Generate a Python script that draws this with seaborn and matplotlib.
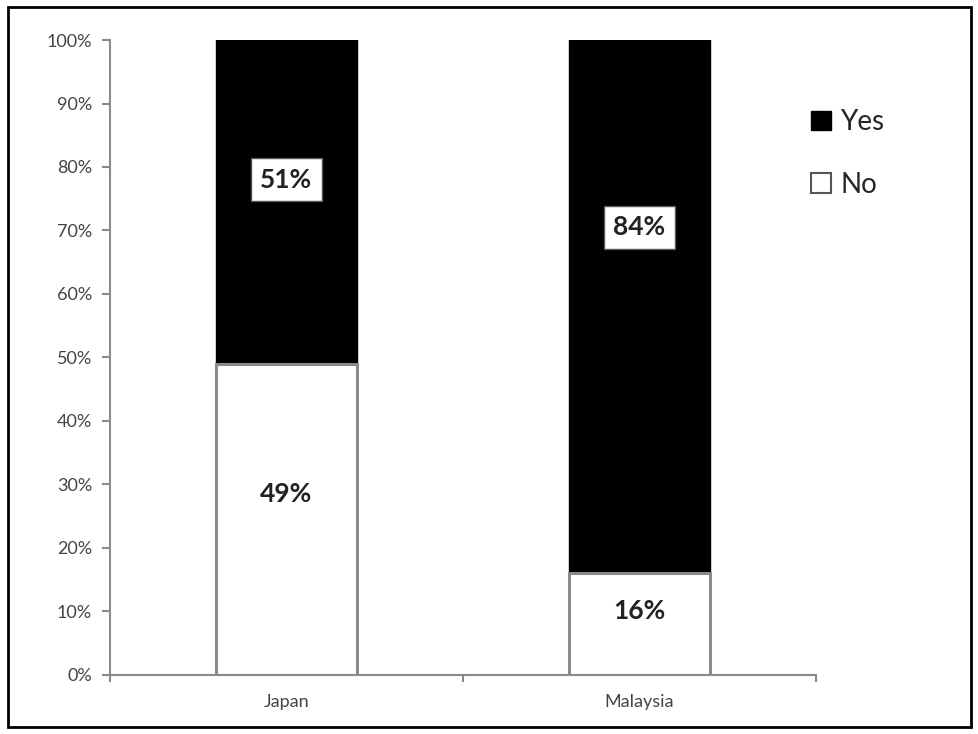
import matplotlib
matplotlib.use("Agg")
import matplotlib.pyplot as plt
from matplotlib.patches import Rectangle, Patch
import pandas as pd
import seaborn as sns

# data
countries = ["Japan", "Malaysia"]
yes_pct = [51, 84]
no_pct = [49, 16]
yes_label_y = [78, 70.5]
no_label_y = [28.5, 10]

df = pd.DataFrame({"Country": countries, "Yes": yes_pct, "No": no_pct})
df["Total"] = df["Yes"] + df["No"]

sns.set_style("white")
plt.rcParams["font.family"] = ["Lato", "DejaVu Sans"]

fig = plt.figure(figsize=(9.79, 7.34), dpi=100)
ax = fig.add_axes([0.1124, 0.0804, 0.7208, 0.8651])

# black full bar (Yes on top), white No bar over it
sns.barplot(data=df, x="Country", y="Total", color="black", width=0.4,
            saturation=1, edgecolor="black", linewidth=1, ax=ax)
sns.barplot(data=df, x="Country", y="No", color="white", width=0.4,
            saturation=1, edgecolor="#8a8a8a", linewidth=2.2, ax=ax)

ax.set_xlim(-0.5, 1.5)
ax.set_ylim(0, 100)
ax.set_yticks(range(0, 101, 10))
ax.set_yticklabels([f"{v}%" for v in range(0, 101, 10)], color="#444444", fontsize=13)
ax.set_xticks([0, 1])
ax.set_xticklabels(countries, color="#444444", fontsize=13)
ax.set_xticks([-0.5, 0.5, 1.5], minor=True)
ax.tick_params(axis="x", which="major", bottom=True, length=0, pad=14)
ax.tick_params(axis="x", which="minor", bottom=True, length=5, width=1.5,
               color="#8a8a8a", direction="out")
ax.tick_params(axis="y", left=True, length=6, width=1.5, color="#8a8a8a",
               direction="out", pad=7)
ax.set_xlabel("")
ax.set_ylabel("")
for s in ["top", "right"]:
    ax.spines[s].set_visible(False)
for s in ["left", "bottom"]:
    ax.spines[s].set_color("#8a8a8a")
    ax.spines[s].set_linewidth(1.5)

box = dict(boxstyle="square,pad=0.35", facecolor="white", edgecolor="#555555", linewidth=1)
for i, c in enumerate(countries):
    ax.text(i, yes_label_y[i], f"{yes_pct[i]}%", ha="center", va="center",
            fontsize=19, fontweight="bold", color="#222222", bbox=box)
    ax.text(i, no_label_y[i], f"{no_pct[i]}%", ha="center", va="center",
            fontsize=19, fontweight="bold", color="#222222")

handles = [Patch(facecolor="black", edgecolor="black", label="Yes"),
           Patch(facecolor="white", edgecolor="#555555", linewidth=1.5, label="No")]
fig.legend(handles=handles, loc="upper left", bbox_to_anchor=(0.803, 0.885),
           frameon=False, fontsize=20, handlelength=0.7, handleheight=0.7,
           handletextpad=0.35, labelspacing=1.3)

fig.patches.append(Rectangle((0.008, 0.01), 0.984, 0.98, transform=fig.transFigure,
                             fill=False, edgecolor="black", linewidth=2))

fig.savefig("out.png", dpi=100)
